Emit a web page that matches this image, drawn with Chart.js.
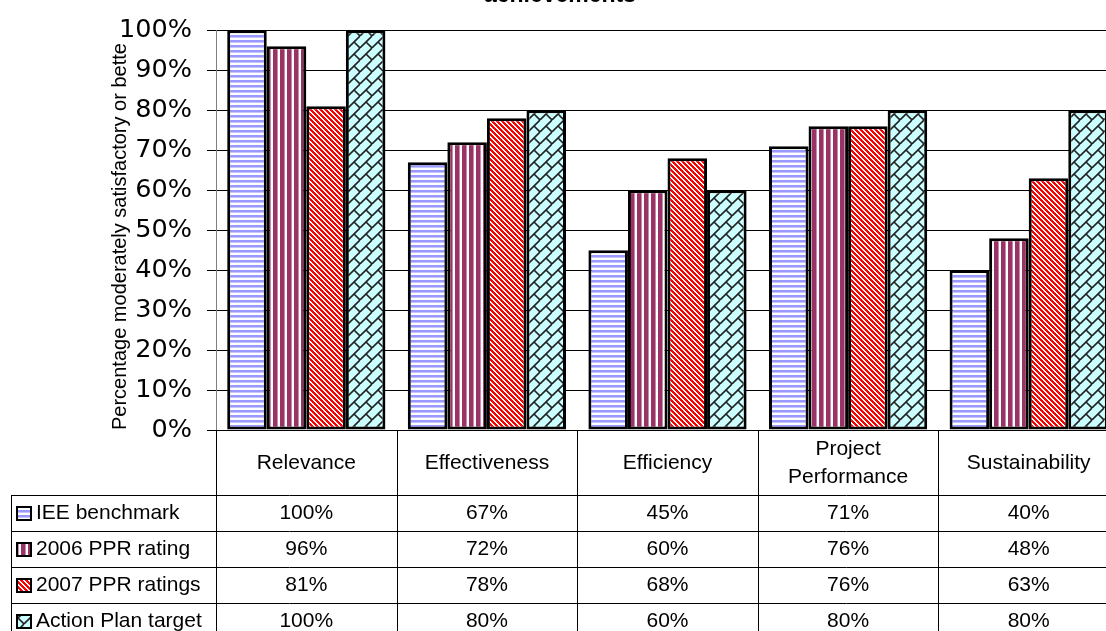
<!DOCTYPE html>
<html>
<head>
<meta charset="utf-8">
<script src="https://cdn.jsdelivr.net/npm/chart.js@4.4.0/dist/chart.umd.min.js"></script>
<style>
    html, body { margin: 0; padding: 0; background: #fff; overflow: hidden; }
    #wrap { width: 1125px; height: 631px; }
</style>
</head>
<body>
<div id="wrap"><canvas id="chart" width="1125" height="631"></canvas></div>
<script>
var categories = ["Relevance", "Effectiveness", "Efficiency", ["Project", "Performance"], "Sustainability"];
var seriesNames = ["IEE benchmark", "2006 PPR rating", "2007 PPR ratings", "Action Plan target"];
var ieeBenchmark = [100, 67, 45, 71, 40];
var ppr2006 = [96, 72, 60, 76, 48];
var ppr2007 = [81, 78, 68, 76, 63];
var actionPlanTarget = [100, 80, 60, 80, 80];
var yTicks = [0, 10, 20, 30, 40, 50, 60, 70, 80, 90, 100];
var yTitle = "Percentage moderately satisfactory or bette";
var chartTitle = "achievements";

var SANS = "'Liberation Sans', Arial, sans-serif";

// Patterns
function makeTile(w, h, draw) {
    var c = document.createElement("canvas");
    c.width = w;
    c.height = h;
    var g = c.getContext("2d");
    draw(g);
    return document.getElementById("chart").getContext("2d").createPattern(c, "repeat");
}

var hStripes = makeTile(1, 5, function (g) {
    g.fillStyle = "#fff";
    g.fillRect(0, 0, 1, 5);
    g.fillStyle = "#9999ff";
    g.fillRect(0, 0, 1, 2);
    g.fillStyle = "#c4c4ff";
    g.fillRect(0, 2, 1, 1);
});

var vStripes = makeTile(7, 1, function (g) {
    g.fillStyle = "#fff";
    g.fillRect(0, 0, 7, 1);
    g.fillStyle = "#993366";
    g.fillRect(0, 0, 4, 1);
    g.fillStyle = "#c98aa8";
    g.fillRect(4, 0, 1, 1);
});

var dStripes = makeTile(5, 5, function (g) {
    for (var y = 0; y < 5; y++) {
        for (var x = 0; x < 5; x++) {
            var d = (x - y + 5) % 5;
            g.fillStyle = d < 3 ? "#ff0000" : "#fff";
            g.fillRect(x, y, 1, 1);
        }
    }
});

// diagonal brick
var bricks = makeTile(12, 12, function (g) {
    g.fillStyle = "#ccffff";
    g.fillRect(0, 0, 12, 12);
    g.strokeStyle = "#222";
    g.lineWidth = 1.6;
    var segs = [
        [12, 0, 0, 12], [0, 0, -12, 12], [24, 0, 12, 12],
        [6, 6, 12, 12], [-6, 6, 0, 12], [6, -6, 12, 0]
    ];
    segs.forEach(function (s) {
        g.beginPath();
        g.moveTo(s[0], s[1]);
        g.lineTo(s[2], s[3]);
        g.stroke();
    });
});

var patterns = [hStripes, vStripes, dStripes, bricks];
var seriesValues = [ieeBenchmark, ppr2006, ppr2007, actionPlanTarget];

// Data table under the plot
var tablePlugin = {
    id: "dataTable",
    afterDraw: function (chart) {
        var ctx = chart.ctx;
        var xs = chart.scales.x;
        var area = chart.chartArea;
        var catW = (area.right - area.left) / categories.length;
        var headTop = area.bottom;
        var rowTops = [495.5, 531.5, 567.5, 603.5];
        var rowH = 36;
        var W = chart.width;
        var H = chart.height;

        ctx.save();
        ctx.strokeStyle = "#000";
        ctx.lineWidth = 1;

        // vertical lines
        for (var i = 0; i <= categories.length; i++) {
            var vx = Math.round(area.left + i * catW) + 0.5;
            ctx.beginPath();
            ctx.moveTo(vx, headTop);
            ctx.lineTo(vx, H);
            ctx.stroke();
        }
        ctx.beginPath();
        ctx.moveTo(11.5, rowTops[0]);
        ctx.lineTo(11.5, H);
        ctx.stroke();

        // horizontal lines
        rowTops.forEach(function (y) {
            ctx.beginPath();
            ctx.moveTo(11, y);
            ctx.lineTo(W, y);
            ctx.stroke();
        });

        ctx.fillStyle = "#000";
        ctx.textAlign = "center";
        ctx.textBaseline = "middle";
        ctx.font = "21px " + SANS;

        // header
        categories.forEach(function (label, i) {
            var cx = xs.getPixelForValue(i);
            var mid = (headTop + rowTops[0]) / 2 + 0.5;
            if (Array.isArray(label)) {
                var lh = 28;
                var y0 = mid - (lh * (label.length - 1)) / 2;
                label.forEach(function (line, k) {
                    ctx.fillText(line, cx, y0 + k * lh);
                });
            } else {
                ctx.fillText(label, cx, mid);
            }
        });

        // rows
        seriesValues.forEach(function (vals, r) {
            var cy = rowTops[r] + rowH / 2;
            vals.forEach(function (v, i) {
                ctx.fillText(v + "%", xs.getPixelForValue(i), cy);
            });
            // legend key
            ctx.fillStyle = patterns[r];
            ctx.fillRect(17, cy - 6.5, 14, 13);
            ctx.lineWidth = 2;
            ctx.strokeRect(17, cy - 6.5, 14, 13);
            ctx.lineWidth = 1;
            ctx.fillStyle = "#000";
            ctx.textAlign = "left";
            ctx.fillText(seriesNames[r], 36, cy);
            ctx.textAlign = "center";
        });

        // title, cut off at the top of the picture
        ctx.font = "bold 23px " + SANS;
        ctx.textBaseline = "alphabetic";
        ctx.fillStyle = "#000";
        ctx.fillText(chartTitle, 560, 2);
        ctx.restore();
    }
};

var ctx = document.getElementById("chart").getContext("2d");
var myChart = new Chart(ctx, {
    type: "bar",
    data: {
        labels: categories,
        datasets: seriesNames.map(function (name, i) {
            return {
                label: name,
                data: seriesValues[i],
                backgroundColor: patterns[i],
                borderColor: "#000",
                borderWidth: 3,
                borderSkipped: false,
                categoryPercentage: 0.876,
                barPercentage: 1.0,
            };
        }),
    },
    options: {
        responsive: false,
        animation: false,
        devicePixelRatio: 1,
        layout: { padding: { top: 26, bottom: 201, left: 0, right: 6 } },
        plugins: {
            legend: { display: false },
            tooltip: { enabled: false },
        },
        scales: {
            x: {
                display: false,
                offset: true,
            },
            y: {
                min: yTicks[0],
                max: yTicks[yTicks.length - 1],
                afterFit: function (scale) {
                    scale.width = 216;
                },
                afterBuildTicks: function (scale) {
                    scale.ticks = yTicks.map(function (v) {
                        return { value: v };
                    });
                },
                border: { display: true, color: "#808080", width: 1 },
                grid: { color: "#000", lineWidth: 1, tickLength: 9, tickColor: "#000" },
                ticks: {
                    padding: 15,
                    color: "#000",
                    font: { family: "'DejaVu Sans', Verdana, sans-serif", size: 25.5 },
                    callback: function (v) {
                        return v + "%";
                    },
                },
                title: {
                    display: true,
                    text: yTitle,
                    align: "start",
                    color: "#000",
                    font: { family: SANS, size: 20 },
                    padding: { top: 108, bottom: 0 },
                },
            },
        },
    },
    plugins: [tablePlugin],
});
</script>
</body>
</html>
